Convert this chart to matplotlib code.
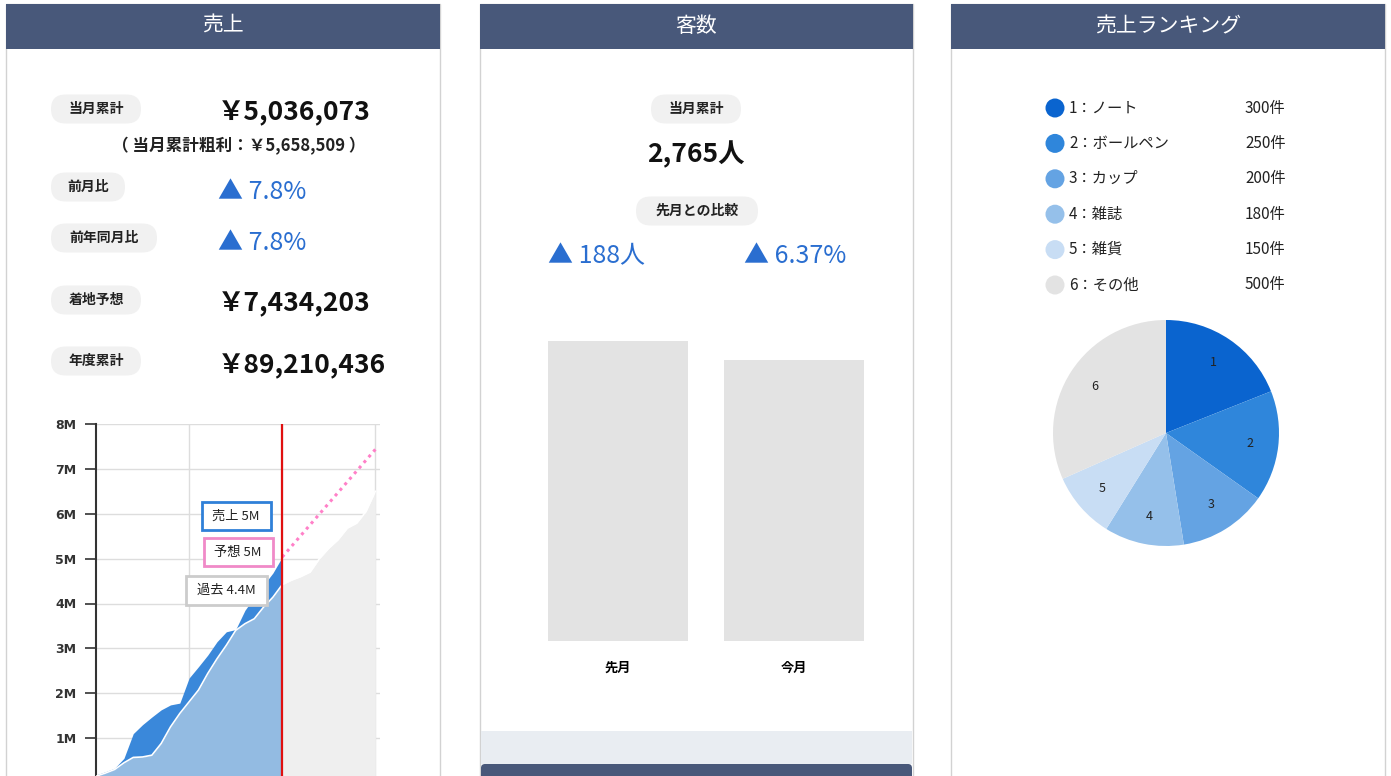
"""Sales dashboard: cumulative sales chart, customer count bars, sales ranking pie."""
import matplotlib
matplotlib.use("Agg")
import matplotlib.pyplot as plt
from matplotlib.patches import Rectangle, FancyBboxPatch, Circle
import numpy as np

plt.rcParams["font.family"] = ["Noto Sans CJK JP", "DejaVu Sans"]

W, H = 1391, 776
NAVY = "#48587a"
BLUE_TXT = "#2a6ed0"
PILL = "#f1f1f1"

# --- 売上 panel -------------------------------------------------------------
sales_labels = ["当月累計", "前月比", "前年同月比", "着地予想", "年度累計"]
sales_values = ["￥5,036,073", "▲ 7.8%", "▲ 7.8%", "￥7,434,203", "￥89,210,436"]
sales_value_blue = [False, True, True, False, False]
gross_profit_text = "（ 当月累計粗利：￥5,658,509 ）"

days_cur = [1, 2, 3, 4, 5, 6, 7, 8, 9, 10, 11, 12, 13, 14, 15, 16, 17, 18, 19, 20, 21]
sales_cum = [0.18, 0.25, 0.33, 0.55, 1.10, 1.30, 1.47, 1.63, 1.74, 1.78, 2.34,
             2.59, 2.85, 3.15, 3.37, 3.42, 3.85, 4.14, 4.41, 4.68, 5.036]
days_past = list(range(1, 32))
past_cum = [0.15, 0.22, 0.30, 0.45, 0.57, 0.58, 0.62, 0.88, 1.25, 1.55, 1.81,
            2.07, 2.44, 2.77, 3.07, 3.40, 3.55, 3.66, 3.92, 4.14, 4.42, 4.52,
            4.60, 4.70, 5.00, 5.23, 5.42, 5.68, 5.79, 6.05, 6.50]
forecast_days = [21, 31]
forecast_cum = [5.036, 7.434]
today = 21
callouts = [(" 売上 5M ", "#2f80d8"), (" 予想 5M ", "#f08ac8"), (" 過去 4.4M ", "#cccccc")]

# --- 客数 panel -------------------------------------------------------------
visitors_total = "2,765人"
visitors_diff = ["▲ 188人", "▲ 6.37%"]
bar_labels = ["先月", "今月"]
bar_values = [2953, 2765]

# --- 売上ランキング panel ---------------------------------------------------
rank_names = ["1：ノート", "2：ボールペン", "3：カップ", "4：雑誌", "5：雑貨", "6：その他"]
rank_counts = [300, 250, 200, 180, 150, 500]
rank_colors = ["#0a64cf", "#2f86db", "#64a3e3", "#95c0ea", "#c8ddf4", "#e3e3e3"]


def px_axes(fig, left, top, right, bottom):
    return fig.add_axes([left / W, 1 - bottom / H, (right - left) / W, (bottom - top) / H])


def pill(ax, cx, cy, text):
    w = 16 * len(text) + 26
    h = 29
    ax.add_patch(FancyBboxPatch((cx - w / 2, cy - h / 2), w, h,
                                boxstyle=f"round,pad=0,rounding_size={h / 2}",
                                fc=PILL, ec="none"))
    ax.text(cx, cy, text, ha="center", va="center", fontsize=10, weight="bold",
            color="#222222")


fig = plt.figure(figsize=(W / 100, H / 100), dpi=100)
bg = fig.add_axes([0, 0, 1, 1])
bg.set_xlim(0, W)
bg.set_ylim(H, 0)
bg.axis("off")

panels = [(6, 440, "売上"), (480, 913, "客数"), (951, 1385, "売上ランキング")]
for x0, x1, title in panels:
    bg.add_patch(Rectangle((x0, 4), x1 - x0, 800, fc="white", ec="#d2d2d2", lw=1))
    bg.add_patch(Rectangle((x0, 4), x1 - x0, 45, fc=NAVY, ec="none"))
    bg.text((x0 + x1) / 2, 26, title, ha="center", va="center", fontsize=15,
            color="white")

# 売上 text block
label_y = [109, 187, 238, 300, 361]
value_y = [113, 192, 243, 304, 366]
for lab, ly, val, vy, blue in zip(sales_labels, label_y, sales_values, value_y,
                                  sales_value_blue):
    w = 16 * len(lab) + 26
    pill(bg, 51 + w / 2, ly, lab)
    if blue:
        bg.text(218, vy, val, ha="left", va="center", fontsize=18, color=BLUE_TXT)
    else:
        bg.text(218, vy, val, ha="left", va="center", fontsize=19, weight="bold",
                color="#111111")
bg.text(239, 146, gross_profit_text, ha="center", va="center", fontsize=12,
        weight="bold", color="#222222")

# 客数 text block
pill(bg, 696, 109, "当月累計")
bg.text(696, 155, visitors_total, ha="center", va="center", fontsize=19,
        weight="bold", color="#111111")
pill(bg, 697, 211, "先月との比較")
for cx, t in zip([597, 795], visitors_diff):
    bg.text(cx, 256, t, ha="center", va="center", fontsize=18, color=BLUE_TXT)
bg.add_patch(Rectangle((481, 731), 431, 33, fc="#e9edf2", ec="none"))
bg.add_patch(FancyBboxPatch((481, 764), 431, 30, boxstyle="round,pad=0,rounding_size=4",
                            fc=NAVY, ec="none"))

# ランキング legend
for i, (name, cnt, col) in enumerate(zip(rank_names, rank_counts, rank_colors)):
    y = 108 + i * 35.4
    bg.add_patch(Circle((1055, y), 9.5, fc=col, ec="none"))
    bg.text(1069, y, name, ha="left", va="center", fontsize=11, color="#222222")
    bg.text(1245, y, f"{cnt}件", ha="left", va="center", fontsize=11, color="#222222")

# --- cumulative sales area chart ---
ax = px_axes(fig, 96, 424, 380, 783)
ax.set_facecolor("none")
past = np.array(past_cum) * 1e6
cur = np.array(sales_cum) * 1e6
ax.fill_between(days_past, past, color="#efefef", lw=0, zorder=1)
ax.fill_between(days_cur, cur, color="#3a88da", lw=0, zorder=2)
ax.fill_between(days_cur, np.minimum(past[:len(days_cur)], cur), color="#93bbe2",
                lw=0, zorder=3)
ax.plot(days_past, past, color="white", lw=1.2, zorder=4)
ax.plot(forecast_days, np.array(forecast_cum) * 1e6, color="#ff80c8", lw=2.2,
        ls=(0, (1, 1.4)), zorder=5)
ax.axvline(today, color="#e01010", lw=1.6, zorder=6)
ax.set_xlim(1, 31.5)
ax.set_ylim(0, 8e6)
ax.set_yticks(np.arange(1, 9) * 1e6, [f"{i}M" for i in range(1, 9)])
ax.set_xticks([11, 21, 31])
ax.tick_params(axis="y", direction="out", length=8, width=1.2, color="#333333",
               labelsize=9, labelcolor="#333333", pad=6)
for lbl in ax.get_yticklabels():
    lbl.set_family("DejaVu Sans")
    lbl.set_fontweight("bold")
ax.tick_params(axis="x", length=0, labelbottom=False)
ax.grid(color="#dddddd", lw=1, zorder=0)
ax.set_axisbelow(True)
for s in ["top", "right", "bottom"]:
    ax.spines[s].set_visible(False)
ax.spines["left"].set_color("#333333")
ax.spines["left"].set_linewidth(1.5)

callout_xy = [(today, cur[-1]), (today, cur[-1]), (today, past[today - 1])]
callout_off = [(-46, 41), (-44, 5), (-56, -6)]
for (txt, ec), xy, off in zip(callouts, callout_xy, callout_off):
    ax.annotate(txt, xy=xy, xytext=off, textcoords="offset pixels", ha="center",
                va="center", fontsize=9.5, color="#222222", zorder=10,
                bbox=dict(boxstyle="square,pad=0.6", fc="white", ec=ec, lw=2))

# --- visitors bar chart ---
bx = px_axes(fig, 530, 341, 882, 641)
bx.set_facecolor("none")
bx.bar([0, 1], bar_values, width=0.795, color="#e3e3e3")
bx.set_xlim(-0.5, 1.5)
bx.set_ylim(0, max(bar_values))
bx.set_xticks([0, 1], bar_labels)
bx.set_yticks([])
bx.tick_params(axis="x", length=0, pad=14, labelsize=9.5)
for lbl in bx.get_xticklabels():
    lbl.set_fontweight("bold")
for s in bx.spines.values():
    s.set_visible(False)

# --- ranking pie ---
pa = px_axes(fig, 1053, 320, 1279, 546)
pa.pie(rank_counts, colors=rank_colors, startangle=90, counterclock=False,
       labels=[str(i + 1) for i in range(len(rank_counts))], labeldistance=0.75,
       textprops=dict(fontsize=9, color="#222222", ha="center", va="center"),
       wedgeprops=dict(lw=0))
pa.set_xlim(-1, 1)
pa.set_ylim(-1, 1)
pa.set_aspect("equal")

fig.savefig("out.png", dpi=100)
